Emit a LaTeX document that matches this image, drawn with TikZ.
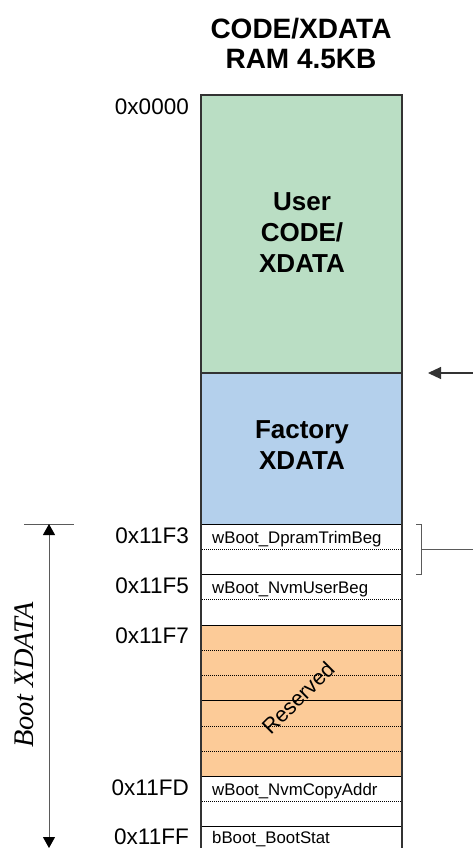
\documentclass[tikz,border=0pt]{standalone}
\usepackage{fontspec}
\setmainfont{Liberation Sans}
\newfontfamily\tnr{Liberation Serif}
\usetikzlibrary{arrows.meta}
\definecolor{usergreen}{RGB}{186,222,196}
\definecolor{factblue}{RGB}{180,208,236}
\definecolor{resorange}{RGB}{252,203,152}
\definecolor{edge}{RGB}{51,51,51}
\definecolor{guide}{RGB}{90,90,90}
\begin{document}
\begin{tikzpicture}[x=1pt,y=-1pt,
  blk/.style={draw=black, line width=1pt, inner sep=0pt, outer sep=0pt, minimum width=201pt, anchor=north west},
  dotrow/.style={line width=0.8pt, dash pattern=on 0.9pt off 1.1pt},
  addr/.style={anchor=base east, inner sep=0pt, font=\fontsize{22.5}{26}\selectfont},
  fld/.style={anchor=base west, inner sep=0pt, font=\fontsize{16.8}{19}\selectfont},
  big/.style={align=center, inner sep=0pt, font=\fontsize{26}{31}\selectfont\bfseries},
  conn/.style={line width=1.1pt, draw=edge},
  tip/.style={-{Triangle[length=13pt,width=12pt]}},
]
\useasboundingbox (0,0) rectangle (473,848);
% title
\node[align=center, inner sep=0pt, font=\fontsize{28}{30}\selectfont\bfseries] (title) at (301,43.2) {CODE/XDATA\\RAM 4.5KB};
% blocks
\node[blk, fill=usergreen, minimum height=278pt] (user) at (201,95) {};
\node[blk, fill=factblue, minimum height=151pt] (fact) at (201,373) {};
\node[blk, fill=white, minimum height=50pt] (r1) at (201,524) {};
\node[blk, fill=white, minimum height=51pt] (r2) at (201,574) {};
\node[blk, fill=resorange, minimum height=151pt] (res) at (201,625) {};
\node[blk, fill=white, minimum height=50pt] (r4) at (201,776) {};
\node[blk, fill=white, minimum height=60pt] (r5) at (201,826) {};
% inner lines
\draw[line width=1pt] (201,700) -- (402,700);
\foreach \yy in {549,599,650,675,726,751,801,851}
  \draw[dotrow] (202,\yy) -- (401,\yy);
\draw[line width=1.8pt, draw=edge] (201,373) -- (402,373);
\draw[line width=2pt, draw=edge] (201,890) -- (201,95) -- (402,95) -- (402,890);
% block labels
\node[big] (userl) at (302,232.7) {User\\CODE/\\XDATA};
\node[big] (factl) at (302,445.5) {Factory\\XDATA};
\node[rotate=45, inner sep=0pt, font=\fontsize{21.5}{24}\selectfont] (resl) at (298,698) {Reserved};
% field labels
\node[fld] (f1) at (212,543) {wBoot\_DpramTrimBeg};
\node[fld] (f2) at (212,593) {wBoot\_NvmUserBeg};
\node[fld] (f4) at (212,795) {wBoot\_NvmCopyAddr};
\node[fld] (f5) at (212,843) {bBoot\_BootStat};
% addresses
\node[addr] (a0) at (189,115) {0x0000};
\node[addr] (a1) at (189,543) {0x11F3};
\node[addr] (a2) at (189,593) {0x11F5};
\node[addr] (a3) at (189,643) {0x11F7};
\node[addr] (a4) at (189,795) {0x11FD};
\node[addr] (a5) at (189,844) {0x11FF};
% right arrow
\coordinate (rs) at (473,373);
\coordinate (re) at (428,373);
\draw[conn, tip] (rs) -- (re);
% bracket
\coordinate (b1) at (416,524);
\coordinate (b2) at (421,524);
\coordinate (b3) at (421,574);
\coordinate (b4) at (416,574);
\coordinate (bm) at (421,549);
\coordinate (be) at (473,549);
\draw[line width=0.9pt, draw=guide] (b1) -- (b2) -- (b3) -- (b4);
\draw[line width=0.9pt, draw=guide] (bm) -- (be);
% boot xdata span
\coordinate (t1) at (24,524);
\coordinate (t2) at (74,524);
\draw[line width=0.9pt, draw=guide] (t1) -- (t2);
\coordinate (vt) at (49,524);
\coordinate (vb) at (49,848);
\draw[line width=1pt, draw=guide, {Triangle[length=11pt,width=12pt,color=black]}-{Triangle[length=11pt,width=12pt,color=black]}] (vt) -- (vb);
\node[rotate=90, anchor=base, inner sep=0pt, font=\fontsize{28.4}{30}\selectfont\tnr\itshape] (bootl) at (33,675) {Boot XDATA};
\end{tikzpicture}
\end{document}
